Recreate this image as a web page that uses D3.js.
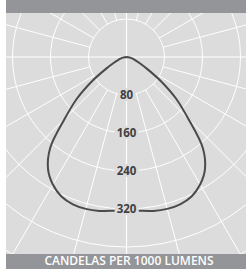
<!DOCTYPE html>
<html lang="en">
  <head>
    <meta charset="utf-8" />
    <script src="https://cdn.jsdelivr.net/npm/d3@7/dist/d3.min.js"></script>
    <style>
      body { margin: 0; background: #fff; }
      text { font-family: "Open Sans", sans-serif; }
    </style>
  </head>
  <body>
    <div id="container"></div>
    <script>
      // candela values per angle from nadir (degrees), symmetric
      const angles = [0, 5, 10, 15, 20, 25, 30, 35, 40, 45, 50, 55, 60, 65, 70, 75, 80, 85, 90];
      const candela = [322, 325, 329, 331, 330, 324, 310, 288, 250, 184, 136, 88, 50, 30, 19, 12, 8, 4, 0];
      const ringTicks = [80, 160, 240, 320];
      const ringValues = [80, 160, 240, 320, 400, 480, 560];
      const spokeAngles = d3.range(15, 360, 15).filter((a) => a % 90 !== 0);
      const footerLabel = "CANDELAS PER 1000 LUMENS";

      const width = 246, height = 272;
      const panel = { x0: 6, x1: 246, y0: 13, y1: 254 };
      const cx = 126.5, cy = 57;

      const svg = d3.select("#container").append("svg").attr("width", width).attr("height", height);

      svg.append("defs").append("clipPath").attr("id", "clip")
        .append("rect").attr("x", panel.x0).attr("y", panel.y0)
        .attr("width", panel.x1 - panel.x0).attr("height", panel.y1 - panel.y0);

      svg.append("rect").attr("x", panel.x0).attr("y", 0).attr("width", panel.x1 - panel.x0).attr("height", panel.y0).attr("fill", "#939598");
      svg.append("rect").attr("x", panel.x0).attr("y", panel.y0).attr("width", panel.x1 - panel.x0).attr("height", panel.y1 - panel.y0).attr("fill", "#dcdcdd");
      svg.append("rect").attr("x", panel.x0).attr("y", panel.y1).attr("width", panel.x1 - panel.x0).attr("height", 15).attr("fill", "#939598");

      const r = d3.scaleLinear().domain([0, 80]).range([0, 38]);

      const g = svg.append("g").attr("clip-path", "url(#clip)");
      const c = g.append("g").attr("transform", `translate(${cx},${cy})`);

      // rings
      c.selectAll("circle.ring").data(ringValues).join("circle")
        .attr("r", (d) => r(d)).attr("fill", "none").attr("stroke", "#fff").attr("stroke-width", 1);

      // spokes start at the first ring
      c.selectAll("line.spoke").data(spokeAngles).join("line")
        .attr("x1", (d) => r(80) * Math.sin((d * Math.PI) / 180))
        .attr("y1", (d) => -r(80) * Math.cos((d * Math.PI) / 180))
        .attr("x2", (d) => r(600) * Math.sin((d * Math.PI) / 180))
        .attr("y2", (d) => -r(600) * Math.cos((d * Math.PI) / 180))
        .attr("stroke", "#fff").attr("stroke-width", 1);

      // main axes
      c.append("line").attr("x1", -300).attr("x2", 300).attr("y1", 0).attr("y2", 0).attr("stroke", "#fff").attr("stroke-width", 1.2);
      c.append("line").attr("x1", 0).attr("x2", 0).attr("y1", -300).attr("y2", 300).attr("stroke", "#fff").attr("stroke-width", 1.2);

      // distribution curve, nadir pointing down
      const pts = [];
      for (let i = angles.length - 1; i > 0; i--) pts.push([-angles[i], candela[i]]);
      for (let i = 0; i < angles.length; i++) pts.push([angles[i], candela[i]]);

      const line = d3.lineRadial()
        .angle((d) => Math.PI - (d[0] * Math.PI) / 180)
        .radius((d) => r(d[1]))
        .curve(d3.curveCatmullRom.alpha(0.5));

      c.append("path").datum(pts).attr("d", line)
        .attr("fill", "none").attr("stroke", "#4a4a4c").attr("stroke-width", 2);

      // ring labels
      const lab = c.selectAll("g.lab").data(ringTicks).join("g")
        .attr("transform", (d) => `translate(0,${r(d)})`);
      lab.append("text").text((d) => d)
        .attr("text-anchor", "middle").attr("dy", "0.36em")
        .attr("font-size", 11.5).attr("font-weight", 700).attr("fill", "#414042")
        .each(function () {
          const b = this.getBBox();
          d3.select(this.parentNode).insert("rect", "text")
            .attr("x", b.x - 2).attr("y", b.y + 1).attr("width", b.width + 4).attr("height", b.height - 2)
            .attr("fill", "#dcdcdd");
        });

      svg.append("text").attr("x", 129).attr("y", 264.5)
        .attr("text-anchor", "middle").attr("font-size", 12).attr("font-weight", 600)
        .attr("fill", "#fff").text(footerLabel);
    </script>
  </body>
</html>
